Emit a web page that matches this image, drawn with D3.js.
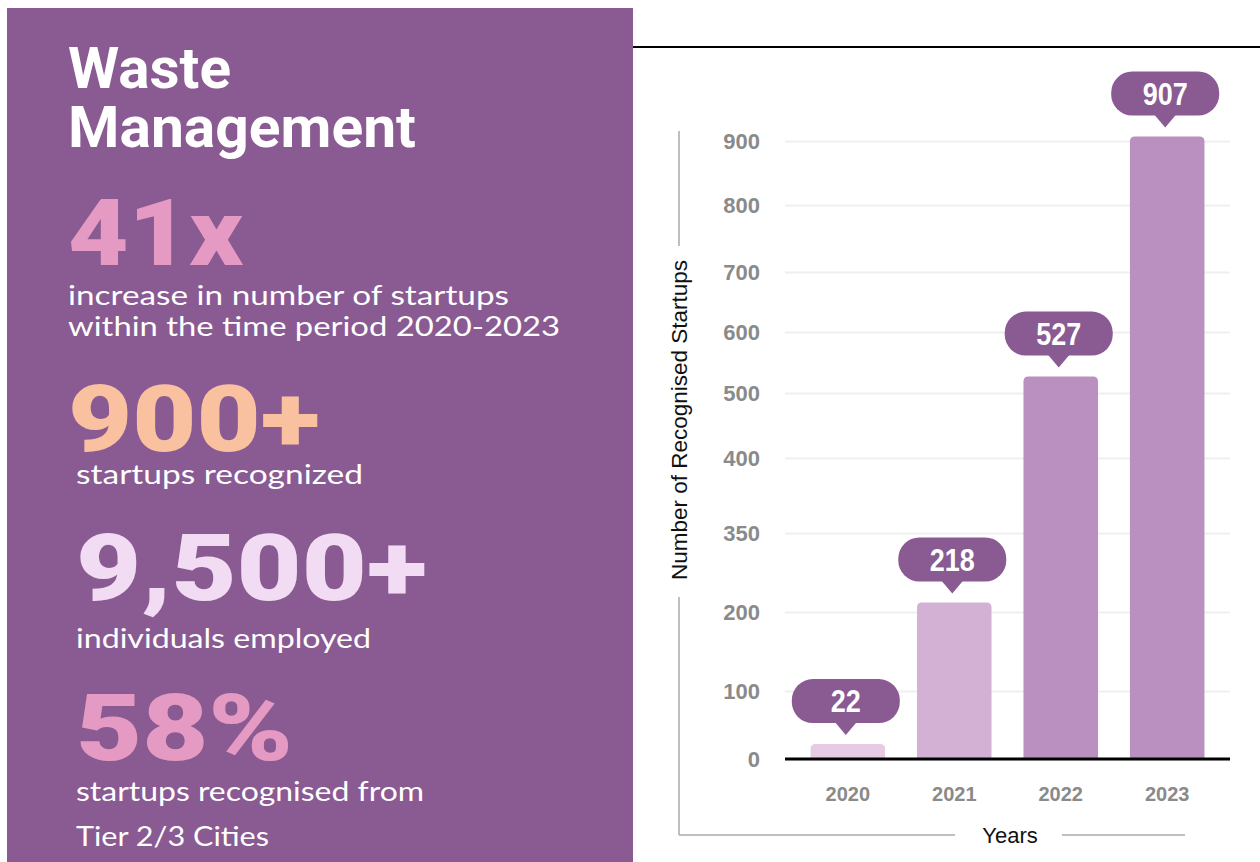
<!DOCTYPE html>
<html>
<head>
<meta charset="utf-8">
<script src="https://cdn.jsdelivr.net/npm/d3@7"></script>
<style>
  body { margin: 0; background: #fff; }
  svg { display: block; }
</style>
</head>
<body>
<svg id="chart"></svg>
<script>
// chart data
const years = ['2020', '2021', '2022', '2023'];
const startups = [22, 218, 527, 907];
const yTicks = [0, 100, 200, 350, 400, 500, 600, 700, 800, 900];

// left panel figures
const statValues = ['41x', '900+', '9,500+', '58%'];
const statNotes = [
  ['increase in number of startups', 'within the time period 2020-2023'],
  ['startups recognized'],
  ['individuals employed'],
  ['startups recognised from', 'Tier 2/3 Cities']
];

const w = 1260, h = 862;
const purple = '#8a5a92';
const barColors = ['#e6cbe4', '#d3b1d5', '#b990bf', '#b990bf'];

const svg = d3.select('#chart').attr('width', w).attr('height', h);

// ---- left panel ----
svg.append('rect').attr('x', 7).attr('y', 8).attr('width', 626).attr('height', h - 8).attr('fill', purple);

const title = svg.append('g').attr('fill', '#fff')
  .style('font-family', 'Roboto, sans-serif').style('font-weight', 700).style('font-size', '58px');
title.append('text').attr('x', 68).attr('y', 88).attr('textLength', 163).attr('lengthAdjust', 'spacingAndGlyphs').text('Waste');
title.append('text').attr('x', 68).attr('y', 147).attr('textLength', 348).attr('lengthAdjust', 'spacingAndGlyphs').text('Management');

// big figure placement
const bigLayout = [
  { x: 68, y: 265, len: 175, col: '#e59ac3' },
  { x: 68, y: 451, len: 252, col: '#f9c19f' },
  { x: 76, y: 600, len: 351, col: '#f2dcf4' },
  { x: 76, y: 760, len: 217, col: '#e59ac3' }
];
const noteLayout = [
  [{ x: 68, y: 305, len: 441 }, { x: 68, y: 336, len: 492 }],
  [{ x: 76, y: 484, len: 287 }],
  [{ x: 76, y: 648, len: 295 }],
  [{ x: 76, y: 801, len: 348 }, { x: 76, y: 846, len: 193 }]
];

statValues.forEach((v, i) => {
  const L = bigLayout[i];
  svg.append('text')
    .attr('x', L.x).attr('y', L.y)
    .attr('textLength', L.len).attr('lengthAdjust', 'spacingAndGlyphs')
    .attr('fill', L.col)
    .style('font-family', 'Roboto, sans-serif').style('font-weight', 900).style('font-size', '92px')
    .text(v);
  statNotes[i].forEach((t, j) => {
    const N = noteLayout[i][j];
    svg.append('text')
      .attr('x', N.x).attr('y', N.y)
      .attr('textLength', N.len).attr('lengthAdjust', 'spacingAndGlyphs')
      .attr('fill', '#fff')
      .style('font-family', 'Lato, sans-serif').style('font-weight', 400).style('font-size', '27px')
      .text(t);
  });
});

// ---- right chart ----
svg.append('line').attr('x1', 633).attr('x2', w).attr('y1', 47).attr('y2', 47)
  .attr('stroke', '#000').attr('stroke-width', 2);

const x = d3.scaleBand().domain(years).range([785, 1230]).paddingInner(0.3).paddingOuter(0.24);
// the source axis is uneven, so the scale is piecewise over the tick values
const y = d3.scaleLinear().domain(yTicks)
  .range([759, 691, 612, 533, 458, 393, 332, 272, 205, 141]);

const yAxis = d3.axisLeft(y).tickValues(yTicks).tickSize(-445).tickPadding(25);
const gy = svg.append('g').attr('transform', 'translate(785,0)').call(yAxis);
gy.select('.domain').remove();
gy.selectAll('.tick line').attr('stroke', '#efefef').attr('stroke-width', 2);
gy.selectAll('.tick text')
  .attr('fill', '#8a8a8a')
  .style('font-family', '"Liberation Sans", Arial, sans-serif')
  .style('font-weight', 700).style('font-size', '22px');

// bars with rounded tops
svg.selectAll('.bar')
  .data(startups)
  .enter()
  .append('path')
  .attr('class', 'bar')
  .attr('fill', (d, i) => barColors[i])
  .attr('d', (d, i) => {
    const x0 = x(years[i]), bw = x.bandwidth(), y0 = y(0), y1 = y(d), r = 5;
    return `M${x0},${y0}V${y1 + r}Q${x0},${y1} ${x0 + r},${y1}H${x0 + bw - r}Q${x0 + bw},${y1} ${x0 + bw},${y1 + r}V${y0}Z`;
  });

// baseline
svg.append('line').attr('x1', 785).attr('x2', 1230).attr('y1', y(0)).attr('y2', y(0))
  .attr('stroke', '#000').attr('stroke-width', 3);

const xAxis = d3.axisBottom(x).tickSize(0).tickPadding(28);
const gx = svg.append('g').attr('transform', `translate(0,${y(0)})`).call(xAxis);
gx.select('.domain').remove();
gx.selectAll('.tick text')
  .attr('fill', '#8a8a8a')
  .style('font-family', '"Liberation Sans", Arial, sans-serif')
  .style('font-weight', 700).style('font-size', '20px');

// value callouts
const pw = 108, ph = 44, gap = 9, tip = 12;
const callouts = svg.selectAll('.callout')
  .data(startups)
  .enter()
  .append('g')
  .attr('class', 'callout')
  .attr('transform', (d, i) => `translate(${x(years[i]) + x.bandwidth() / 2 - 2},${y(d) - gap})`);
callouts.append('rect')
  .attr('x', -pw / 2).attr('y', -tip - ph).attr('width', pw).attr('height', ph)
  .attr('rx', 21).attr('fill', purple);
callouts.append('path')
  .attr('d', `M-11,${-tip - 1}L0,0L11,${-tip - 1}Z`).attr('fill', purple);
callouts.append('text')
  .attr('y', -tip - ph / 2).attr('dy', '0.36em').attr('text-anchor', 'middle')
  .attr('textLength', d => String(d).length * 15).attr('lengthAdjust', 'spacingAndGlyphs')
  .attr('fill', '#fff')
  .style('font-family', '"Liberation Sans", Arial, sans-serif')
  .style('font-weight', 700).style('font-size', '31px')
  .text(d => d);

// axis titles and their frame lines
const frame = svg.append('g').attr('stroke', '#aaa').attr('stroke-width', 1.5);
frame.append('line').attr('x1', 679).attr('x2', 679).attr('y1', 131).attr('y2', 246);
frame.append('line').attr('x1', 679).attr('x2', 679).attr('y1', 597).attr('y2', 835);
frame.append('line').attr('x1', 679).attr('x2', 955).attr('y1', 835).attr('y2', 835);
frame.append('line').attr('x1', 1062).attr('x2', 1185).attr('y1', 835).attr('y2', 835);

svg.append('text')
  .attr('transform', 'translate(687,420) rotate(-90)')
  .attr('text-anchor', 'middle')
  .attr('fill', '#111')
  .style('font-family', '"Liberation Sans", Arial, sans-serif').style('font-size', '22.5px')
  .text('Number of Recognised Startups');

svg.append('text')
  .attr('x', 1010).attr('y', 843)
  .attr('text-anchor', 'middle')
  .attr('fill', '#111')
  .style('font-family', '"Liberation Sans", Arial, sans-serif').style('font-size', '22px')
  .text('Years');
</script>
</body>
</html>
